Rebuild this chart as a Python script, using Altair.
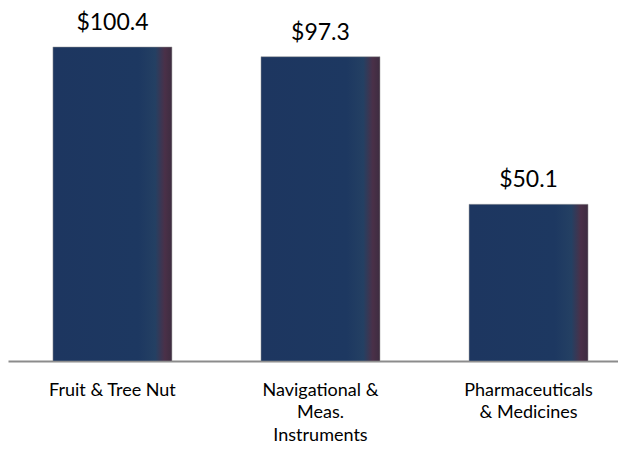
import altair as alt
import pandas as pd

categories = ["Fruit & Tree Nut", "Navigational & Meas. Instruments", "Pharmaceuticals & Medicines"]
values = [100.4, 97.3, 50.1]
value_labels = ["$100.4", "$97.3", "$50.1"]

df = pd.DataFrame({"cat": categories, "value": values, "label": value_labels})

label_expr = (
    "datum.value == 'Fruit & Tree Nut' ? ['Fruit & Tree Nut'] : "
    "datum.value == 'Navigational & Meas. Instruments' ? ['Navigational &', 'Meas.', 'Instruments'] : "
    "['Pharmaceuticals', '& Medicines']"
)

grad = alt.Gradient(
    gradient="linear",
    x1=0, x2=1, y1=0, y2=0,
    stops=[
        alt.GradientStop(offset=0, color="#1d3660"),
        alt.GradientStop(offset=0.72, color="#1d3861"),
        alt.GradientStop(offset=0.86, color="#244063"),
        alt.GradientStop(offset=0.94, color="#4a3048"),
        alt.GradientStop(offset=1, color="#3d2c40"),
    ],
)

x = alt.X(
    "cat:N",
    sort=categories,
    scale=alt.Scale(paddingInner=0.428, paddingOuter=0.18, align=0.6),
    axis=alt.Axis(
        title=None,
        labelAngle=0,
        ticks=False,
        labelPadding=20,
        labelFont="Lato",
        labelFontSize=18,
        labelColor="#000000",
        labelLineHeight=22.5,
        labelExpr=label_expr,
        domainColor="#8c8c8c",
        domainWidth=2,
        labelLimit=300,
    ),
)
y = alt.Y("value:Q", scale=alt.Scale(domain=[0, 107.75]), axis=None)

bars = alt.Chart(df).mark_bar(color=grad, stroke="#9a9a9a", strokeWidth=0.5).encode(x=x, y=y)
text = alt.Chart(df).mark_text(dy=-17, font="Lato", fontSize=23, color="#000000", baseline="alphabetic").encode(
    x=alt.X("cat:N", sort=categories), y=y, text="label:N"
)

chart = (
    alt.layer(bars, text)
    .properties(
        width=610,
        height=337,
        autosize=alt.AutoSizeParams(type="none"),
        padding={"left": 0, "top": 16, "right": 0, "bottom": 85},
    )
    .configure_view(stroke=None)
)

chart.save("out.html", embed_options={"renderer": "svg", "actions": False})
